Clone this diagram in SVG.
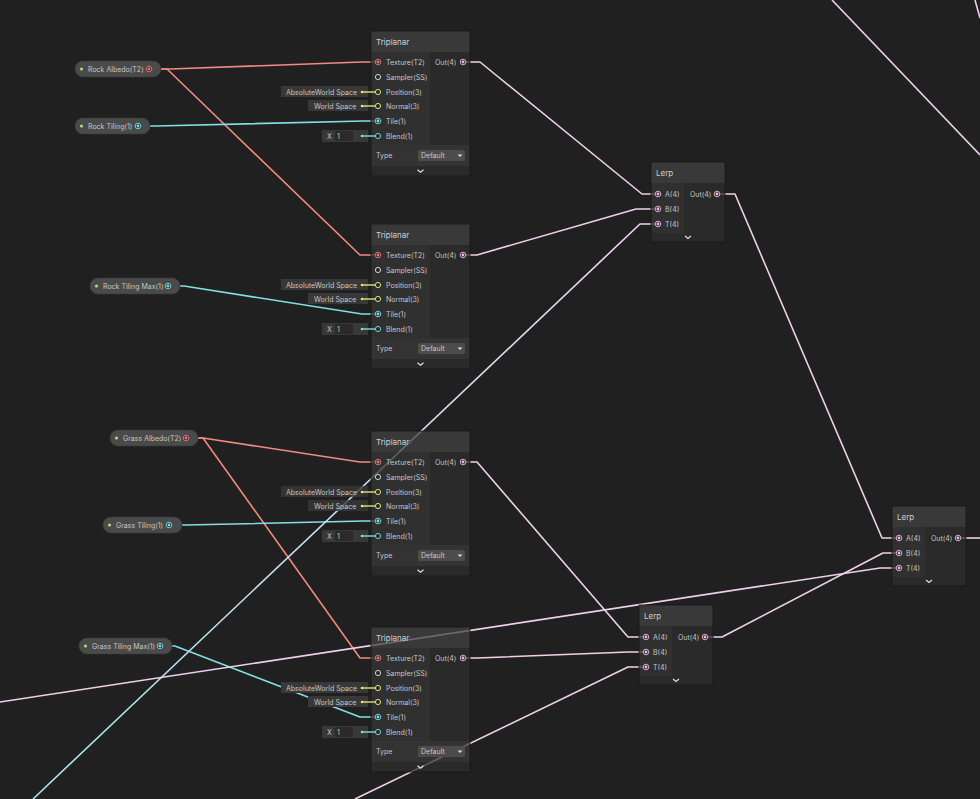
<svg xmlns="http://www.w3.org/2000/svg" width="980" height="799" viewBox="0 0 980 799">
<defs>
<linearGradient id="gr1" gradientUnits="userSpaceOnUse" x1="33" y1="799" x2="658" y2="224">
<stop offset="0" stop-color="#a6e4ee"/>
<stop offset="1" stop-color="#f0d2ee"/>
</linearGradient>
<style>
.e{fill:none;stroke-width:1.6;stroke-linejoin:round}
.red{stroke:#f08a82}
.cy{stroke:#82dfe4}
.pk{stroke:#eed0ea}
.yl{stroke:#e2e27a;stroke-width:1.4}
.cs{stroke:#82dfe4;stroke-width:1.4}
.t{font-family:Inter,"Noto Sans","Liberation Sans",sans-serif;font-size:7px;fill:#c6c6c6}
.h{font-size:8px;fill:#cfcfcf}
.hd{fill:#424242;fill-opacity:.75}
.in{fill:#363636;fill-opacity:.75}
.ot{fill:#2d2d2d;fill-opacity:.75}
.ty{fill:#393939;fill-opacity:.75}
.sp{fill:#2d2d2d;fill-opacity:.75}
.bd{fill:none;stroke:#181818;stroke-width:.8}
.pill{fill:#4a4a4a;stroke:#3a3a3a;stroke-width:.6}
.gd{fill:#a8e070}
.fld{fill:#383838}
.fi{fill:#2a2a2a}
.dd{fill:#4c4c4c}
.chev{fill:none;stroke:#e0e0e0;stroke-width:1.2}
.pr{fill:#2a2a2a;stroke:#e06c72;stroke-width:1}
.prf{fill:#e07a80}
.pc{fill:#2a2a2a;stroke:#6fd0d6;stroke-width:1}
.pcf{fill:#7fdde2}
.pp{fill:#2a2a2a;stroke:#d8a8d4;stroke-width:1}
.ppf{fill:#e6bce2}
.py{fill:#2a2a2a;stroke:#dede72;stroke-width:1}
.pw{fill:#2a2a2a;stroke:#d0d0d0;stroke-width:1}
.dy{fill:#e6e67a}
.dc{fill:#7fdde2}
</style>
</defs>
<rect width="980" height="799" fill="#202020"/>

<g id="connectors">
<path class="e red" d="M161,69 H170 L362,62 H378"/>
<path class="e red" d="M161,69 H167 L360,255 H378"/>
<path class="e red" d="M198,438 H203 L360,462 H378"/>
<path class="e red" d="M198,438 H203 L360,658 H378"/>
<path class="e cy" d="M150,126 H156 L364,121 H378"/>
<path class="e cy" d="M180,286 H184 L362,314 H378"/>
<path class="e cy" d="M182,525 H186 L364,521 H378"/>
<path class="e cy" d="M172,646 H175 L360,717 H378"/>
<path class="e pk" d="M463,62 H480 L642,194 H658"/>
<path class="e pk" d="M463,255 H477 L636,209 H658"/>
<path class="e pk" d="M463,462 H477 L628,637 H646"/>
<path class="e pk" d="M463,658 H477 L628,652 H646"/>
<path class="e pk" d="M717,194 H735 L882,538 H899"/>
<path class="e pk" d="M705,637 H722 L883,553 H899"/>
<path class="e pk" d="M958,538 H980"/>
<path class="e" stroke="url(#gr1)" d="M33,799 L640,224 H658"/>
<path class="e pk" d="M0,702 L880,568 H899"/>
<path class="e pk" d="M355,799 L628,667 H646"/>
<path class="e pk" d="M832,0 L980,155"/>
<path class="e pk" d="M975,0 L980,18"/>
</g>

<g id="rock-albedo">
<rect class="pill" x="75" y="61" width="86" height="16" rx="8"/>
<circle class="gd" cx="81.5" cy="69" r="1.6"/>
<text class="t" x="88" y="71.5">Rock Albedo(T2)</text>
<circle class="pr" cx="149" cy="69" r="2.8"/><circle class="prf" cx="149" cy="69" r="1.4"/>
</g>
<g id="rock-tiling">
<rect class="pill" x="75" y="118" width="75" height="16" rx="8"/>
<circle class="gd" cx="81.5" cy="126" r="1.6"/>
<text class="t" x="88" y="128.5">Rock Tiling(1)</text>
<circle class="pc" cx="138" cy="126" r="2.8"/><circle class="pcf" cx="138" cy="126" r="1.4"/>
</g>
<g id="rock-tiling-max">
<rect class="pill" x="90" y="278" width="90" height="16" rx="8"/>
<circle class="gd" cx="96.5" cy="286" r="1.6"/>
<text class="t" x="103" y="288.5">Rock Tiling Max(1)</text>
<circle class="pc" cx="168" cy="286" r="2.8"/><circle class="pcf" cx="168" cy="286" r="1.4"/>
</g>
<g id="grass-albedo">
<rect class="pill" x="110" y="430" width="88" height="16" rx="8"/>
<circle class="gd" cx="116.5" cy="438" r="1.6"/>
<text class="t" x="123" y="440.5">Grass Albedo(T2)</text>
<circle class="pr" cx="186" cy="438" r="2.8"/><circle class="prf" cx="186" cy="438" r="1.4"/>
</g>
<g id="grass-tiling">
<rect class="pill" x="103" y="517" width="79" height="16" rx="8"/>
<circle class="gd" cx="109.5" cy="525" r="1.6"/>
<text class="t" x="116" y="527.5">Grass Tiling(1)</text>
<circle class="pc" cx="169" cy="525" r="2.8"/><circle class="pcf" cx="169" cy="525" r="1.4"/>
</g>
<g id="grass-tiling-max">
<rect class="pill" x="79" y="638" width="93" height="16" rx="8"/>
<circle class="gd" cx="85.5" cy="646" r="1.6"/>
<text class="t" x="92" y="648.5">Grass Tiling Max(1)</text>
<circle class="pc" cx="160" cy="646" r="2.8"/><circle class="pcf" cx="160" cy="646" r="1.4"/>
</g>

<g id="triplanar-1" transform="translate(371,31)">
<rect class="hd" x="0" y="0" width="99" height="21"/>
<rect class="in" x="0" y="21" width="59" height="93"/>
<rect class="ot" x="59" y="21" width="40" height="93"/>
<rect class="ty" x="0" y="114" width="99" height="21"/>
<rect class="sp" x="0" y="135" width="99" height="10"/>
<rect class="bd" x="0" y="0" width="99" height="145"/>
<text class="t h" x="5" y="14">Triplanar</text>
<rect class="fld" x="-90" y="55" width="87" height="11"/>
<text class="t" x="-85" y="63.5">AbsoluteWorld Space</text>
<circle class="dy" cx="-9" cy="61" r="1.3"/><path class="yl" d="M-9,61 H4"/>
<rect class="fld" x="-63" y="69" width="60" height="11"/>
<text class="t" x="-57" y="77.5">World Space</text>
<circle class="dy" cx="-9" cy="75" r="1.3"/><path class="yl" d="M-9,75 H4"/>
<rect class="fld" x="-49" y="99" width="46" height="12"/>
<text class="t" x="-44" y="107.5">X</text>
<rect class="fi" x="-36" y="100" width="18" height="10"/>
<text class="t" x="-34" y="107.5">1</text>
<circle class="dc" cx="-9" cy="105" r="1.3"/><path class="cs" d="M-9,105 H4"/>
<circle class="pr" cx="7" cy="31" r="2.8"/><circle class="prf" cx="7" cy="31" r="1.4"/>
<text class="t" x="15" y="33.5">Texture(T2)</text>
<circle class="pw" cx="7" cy="46" r="2.6"/>
<text class="t" x="15" y="48.5">Sampler(SS)</text>
<circle class="py" cx="7" cy="61" r="2.6"/>
<text class="t" x="15" y="63.5">Position(3)</text>
<circle class="py" cx="7" cy="75" r="2.6"/>
<text class="t" x="15" y="77.5">Normal(3)</text>
<circle class="pc" cx="7" cy="90" r="2.8"/><circle class="pcf" cx="7" cy="90" r="1.4"/>
<text class="t" x="15" y="92.5">Tile(1)</text>
<circle class="pc" cx="7" cy="105" r="2.6"/>
<text class="t" x="15" y="107.5">Blend(1)</text>
<text class="t" x="64" y="33.5">Out(4)</text>
<circle class="pp" cx="92" cy="31" r="2.8"/><circle class="ppf" cx="92" cy="31" r="1.4"/>
<text class="t" x="5" y="127">Type</text>
<rect class="dd" x="47" y="119" width="47" height="11" rx="1.5"/>
<text class="t" x="50" y="127">Default</text>
<path d="M86.5,123.5 H91.5 L89,126 Z" fill="#d8d8d8"/>
<polyline class="chev" points="46.5,138.8 49.5,141.3 52.5,138.8"/>
</g>

<g id="triplanar-2" transform="translate(371,224)">
<rect class="hd" x="0" y="0" width="99" height="21"/>
<rect class="in" x="0" y="21" width="59" height="93"/>
<rect class="ot" x="59" y="21" width="40" height="93"/>
<rect class="ty" x="0" y="114" width="99" height="21"/>
<rect class="sp" x="0" y="135" width="99" height="10"/>
<rect class="bd" x="0" y="0" width="99" height="145"/>
<text class="t h" x="5" y="14">Triplanar</text>
<rect class="fld" x="-90" y="55" width="87" height="11"/>
<text class="t" x="-85" y="63.5">AbsoluteWorld Space</text>
<circle class="dy" cx="-9" cy="61" r="1.3"/><path class="yl" d="M-9,61 H4"/>
<rect class="fld" x="-63" y="69" width="60" height="11"/>
<text class="t" x="-57" y="77.5">World Space</text>
<circle class="dy" cx="-9" cy="75" r="1.3"/><path class="yl" d="M-9,75 H4"/>
<rect class="fld" x="-49" y="99" width="46" height="12"/>
<text class="t" x="-44" y="107.5">X</text>
<rect class="fi" x="-36" y="100" width="18" height="10"/>
<text class="t" x="-34" y="107.5">1</text>
<circle class="dc" cx="-9" cy="105" r="1.3"/><path class="cs" d="M-9,105 H4"/>
<circle class="pr" cx="7" cy="31" r="2.8"/><circle class="prf" cx="7" cy="31" r="1.4"/>
<text class="t" x="15" y="33.5">Texture(T2)</text>
<circle class="pw" cx="7" cy="46" r="2.6"/>
<text class="t" x="15" y="48.5">Sampler(SS)</text>
<circle class="py" cx="7" cy="61" r="2.6"/>
<text class="t" x="15" y="63.5">Position(3)</text>
<circle class="py" cx="7" cy="75" r="2.6"/>
<text class="t" x="15" y="77.5">Normal(3)</text>
<circle class="pc" cx="7" cy="90" r="2.8"/><circle class="pcf" cx="7" cy="90" r="1.4"/>
<text class="t" x="15" y="92.5">Tile(1)</text>
<circle class="pc" cx="7" cy="105" r="2.6"/>
<text class="t" x="15" y="107.5">Blend(1)</text>
<text class="t" x="64" y="33.5">Out(4)</text>
<circle class="pp" cx="92" cy="31" r="2.8"/><circle class="ppf" cx="92" cy="31" r="1.4"/>
<text class="t" x="5" y="127">Type</text>
<rect class="dd" x="47" y="119" width="47" height="11" rx="1.5"/>
<text class="t" x="50" y="127">Default</text>
<path d="M86.5,123.5 H91.5 L89,126 Z" fill="#d8d8d8"/>
<polyline class="chev" points="46.5,138.8 49.5,141.3 52.5,138.8"/>
</g>

<g id="triplanar-3" transform="translate(371,431)">
<rect class="hd" x="0" y="0" width="99" height="21"/>
<rect class="in" x="0" y="21" width="59" height="93"/>
<rect class="ot" x="59" y="21" width="40" height="93"/>
<rect class="ty" x="0" y="114" width="99" height="21"/>
<rect class="sp" x="0" y="135" width="99" height="10"/>
<rect class="bd" x="0" y="0" width="99" height="145"/>
<text class="t h" x="5" y="14">Triplanar</text>
<rect class="fld" x="-90" y="55" width="87" height="11" fill-opacity=".8"/>
<text class="t" x="-85" y="63.5">AbsoluteWorld Space</text>
<circle class="dy" cx="-9" cy="61" r="1.3"/><path class="yl" d="M-9,61 H4"/>
<rect class="fld" x="-63" y="69" width="60" height="11" fill-opacity=".8"/>
<text class="t" x="-57" y="77.5">World Space</text>
<circle class="dy" cx="-9" cy="75" r="1.3"/><path class="yl" d="M-9,75 H4"/>
<rect class="fld" x="-49" y="99" width="46" height="12"/>
<text class="t" x="-44" y="107.5">X</text>
<rect class="fi" x="-36" y="100" width="18" height="10"/>
<text class="t" x="-34" y="107.5">1</text>
<circle class="dc" cx="-9" cy="105" r="1.3"/><path class="cs" d="M-9,105 H4"/>
<circle class="pr" cx="7" cy="31" r="2.8"/><circle class="prf" cx="7" cy="31" r="1.4"/>
<text class="t" x="15" y="33.5">Texture(T2)</text>
<circle class="pw" cx="7" cy="46" r="2.6"/>
<text class="t" x="15" y="48.5">Sampler(SS)</text>
<circle class="py" cx="7" cy="61" r="2.6"/>
<text class="t" x="15" y="63.5">Position(3)</text>
<circle class="py" cx="7" cy="75" r="2.6"/>
<text class="t" x="15" y="77.5">Normal(3)</text>
<circle class="pc" cx="7" cy="90" r="2.8"/><circle class="pcf" cx="7" cy="90" r="1.4"/>
<text class="t" x="15" y="92.5">Tile(1)</text>
<circle class="pc" cx="7" cy="105" r="2.6"/>
<text class="t" x="15" y="107.5">Blend(1)</text>
<text class="t" x="64" y="33.5">Out(4)</text>
<circle class="pp" cx="92" cy="31" r="2.8"/><circle class="ppf" cx="92" cy="31" r="1.4"/>
<text class="t" x="5" y="127">Type</text>
<rect class="dd" x="47" y="119" width="47" height="11" rx="1.5"/>
<text class="t" x="50" y="127">Default</text>
<path d="M86.5,123.5 H91.5 L89,126 Z" fill="#d8d8d8"/>
<polyline class="chev" points="46.5,138.8 49.5,141.3 52.5,138.8"/>
</g>

<g id="triplanar-4" transform="translate(371,627)">
<rect class="hd" x="0" y="0" width="99" height="21"/>
<rect class="in" x="0" y="21" width="59" height="93"/>
<rect class="ot" x="59" y="21" width="40" height="93"/>
<rect class="ty" x="0" y="114" width="99" height="21"/>
<rect class="sp" x="0" y="135" width="99" height="10"/>
<rect class="bd" x="0" y="0" width="99" height="145"/>
<text class="t h" x="5" y="14">Triplanar</text>
<rect class="fld" x="-90" y="55" width="87" height="11"/>
<text class="t" x="-85" y="63.5">AbsoluteWorld Space</text>
<circle class="dy" cx="-9" cy="61" r="1.3"/><path class="yl" d="M-9,61 H4"/>
<rect class="fld" x="-63" y="69" width="60" height="11"/>
<text class="t" x="-57" y="77.5">World Space</text>
<circle class="dy" cx="-9" cy="75" r="1.3"/><path class="yl" d="M-9,75 H4"/>
<rect class="fld" x="-49" y="99" width="46" height="12"/>
<text class="t" x="-44" y="107.5">X</text>
<rect class="fi" x="-36" y="100" width="18" height="10"/>
<text class="t" x="-34" y="107.5">1</text>
<circle class="dc" cx="-9" cy="105" r="1.3"/><path class="cs" d="M-9,105 H4"/>
<circle class="pr" cx="7" cy="31" r="2.8"/><circle class="prf" cx="7" cy="31" r="1.4"/>
<text class="t" x="15" y="33.5">Texture(T2)</text>
<circle class="pw" cx="7" cy="46" r="2.6"/>
<text class="t" x="15" y="48.5">Sampler(SS)</text>
<circle class="py" cx="7" cy="61" r="2.6"/>
<text class="t" x="15" y="63.5">Position(3)</text>
<circle class="py" cx="7" cy="75" r="2.6"/>
<text class="t" x="15" y="77.5">Normal(3)</text>
<circle class="pc" cx="7" cy="90" r="2.8"/><circle class="pcf" cx="7" cy="90" r="1.4"/>
<text class="t" x="15" y="92.5">Tile(1)</text>
<circle class="pc" cx="7" cy="105" r="2.6"/>
<text class="t" x="15" y="107.5">Blend(1)</text>
<text class="t" x="64" y="33.5">Out(4)</text>
<circle class="pp" cx="92" cy="31" r="2.8"/><circle class="ppf" cx="92" cy="31" r="1.4"/>
<text class="t" x="5" y="127">Type</text>
<rect class="dd" x="47" y="119" width="47" height="11" rx="1.5"/>
<text class="t" x="50" y="127">Default</text>
<path d="M86.5,123.5 H91.5 L89,126 Z" fill="#d8d8d8"/>
<polyline class="chev" points="46.5,138.8 49.5,141.3 52.5,138.8"/>
</g>

<g id="lerp-1" transform="translate(651,162)">
<rect class="hd" x="0" y="0" width="74" height="21"/>
<rect class="in" x="0" y="21" width="33" height="50"/>
<rect class="ot" x="33" y="21" width="41" height="50"/>
<rect class="sp" x="0" y="71" width="74" height="9"/>
<rect class="bd" x="0" y="0" width="74" height="80"/>
<text class="t h" x="5" y="14">Lerp</text>
<circle class="pp" cx="7" cy="32" r="2.8"/><circle class="ppf" cx="7" cy="32" r="1.4"/>
<text class="t" x="14" y="34.5">A(4)</text>
<circle class="pp" cx="7" cy="47" r="2.8"/><circle class="ppf" cx="7" cy="47" r="1.4"/>
<text class="t" x="14" y="49.5">B(4)</text>
<circle class="pp" cx="7" cy="62" r="2.8"/><circle class="ppf" cx="7" cy="62" r="1.4"/>
<text class="t" x="14" y="64.5">T(4)</text>
<text class="t" x="39" y="34.5">Out(4)</text>
<circle class="pp" cx="66" cy="32" r="2.8"/><circle class="ppf" cx="66" cy="32" r="1.4"/>
<polyline class="chev" points="34,74 37,76.5 40,74"/>
</g>

<g id="lerp-2" transform="translate(892,506)">
<rect class="hd" x="0" y="0" width="74" height="21"/>
<rect class="in" x="0" y="21" width="33" height="50"/>
<rect class="ot" x="33" y="21" width="41" height="50"/>
<rect class="sp" x="0" y="71" width="74" height="9"/>
<rect class="bd" x="0" y="0" width="74" height="80"/>
<text class="t h" x="5" y="14">Lerp</text>
<circle class="pp" cx="7" cy="32" r="2.8"/><circle class="ppf" cx="7" cy="32" r="1.4"/>
<text class="t" x="14" y="34.5">A(4)</text>
<circle class="pp" cx="7" cy="47" r="2.8"/><circle class="ppf" cx="7" cy="47" r="1.4"/>
<text class="t" x="14" y="49.5">B(4)</text>
<circle class="pp" cx="7" cy="62" r="2.8"/><circle class="ppf" cx="7" cy="62" r="1.4"/>
<text class="t" x="14" y="64.5">T(4)</text>
<text class="t" x="39" y="34.5">Out(4)</text>
<circle class="pp" cx="66" cy="32" r="2.8"/><circle class="ppf" cx="66" cy="32" r="1.4"/>
<polyline class="chev" points="34,74 37,76.5 40,74"/>
</g>

<g id="lerp-3" transform="translate(639,605)">
<rect class="hd" x="0" y="0" width="74" height="21"/>
<rect class="in" x="0" y="21" width="33" height="50"/>
<rect class="ot" x="33" y="21" width="41" height="50"/>
<rect class="sp" x="0" y="71" width="74" height="9"/>
<rect class="bd" x="0" y="0" width="74" height="80"/>
<text class="t h" x="5" y="14">Lerp</text>
<circle class="pp" cx="7" cy="32" r="2.8"/><circle class="ppf" cx="7" cy="32" r="1.4"/>
<text class="t" x="14" y="34.5">A(4)</text>
<circle class="pp" cx="7" cy="47" r="2.8"/><circle class="ppf" cx="7" cy="47" r="1.4"/>
<text class="t" x="14" y="49.5">B(4)</text>
<circle class="pp" cx="7" cy="62" r="2.8"/><circle class="ppf" cx="7" cy="62" r="1.4"/>
<text class="t" x="14" y="64.5">T(4)</text>
<text class="t" x="39" y="34.5">Out(4)</text>
<circle class="pp" cx="66" cy="32" r="2.8"/><circle class="ppf" cx="66" cy="32" r="1.4"/>
<polyline class="chev" points="34,74 37,76.5 40,74"/>
</g>
</svg>
